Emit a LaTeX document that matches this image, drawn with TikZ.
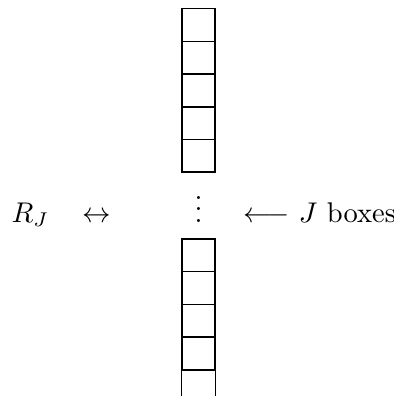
\documentclass[tikz,border=0pt]{standalone}
\usetikzlibrary{positioning}
\usepackage{amsmath,amssymb}

\tikzset{
  cell/.style={draw, line width=0.5pt, minimum size=11.48pt, inner sep=0pt},
  lab/.style={inner sep=0pt, anchor=base},
}

\begin{document}
\begin{tikzpicture}[x=0.351pt, y=-0.351pt]
  \useasboundingbox (0,0) rectangle (394,396);

  % upper column of boxes
  \foreach \i in {1,...,5}
    \node[cell] (t\i) at (198.5, {25.05+32.7*(\i-1)}) {};

  % lower column, last box runs off the bottom
  \foreach \i in {1,...,4}
    \node[cell] (b\i) at (198.5, {255.35+32.7*(\i-1)}) {};
  \coordinate (bl) at (b4.south west |- 0,396);
  \coordinate (br) at (b4.south east |- 0,396);
  \draw[line width=0.5pt] (b4.south west) -- (bl) (b4.south east) -- (br);

  % middle row
  \node[lab, anchor=base west] (rj)   at (11,222)    {$R_J$};
  \node[lab]                   (iff)  at (97,222)    {$\leftrightarrow$};
  \node[lab]                   (dots) at (198.5,222) {$\vdots$};
  \node[lab, anchor=base west] (jb)   at (243,222)   {$\longleftarrow$ $J$ boxes};
\end{tikzpicture}
\end{document}
